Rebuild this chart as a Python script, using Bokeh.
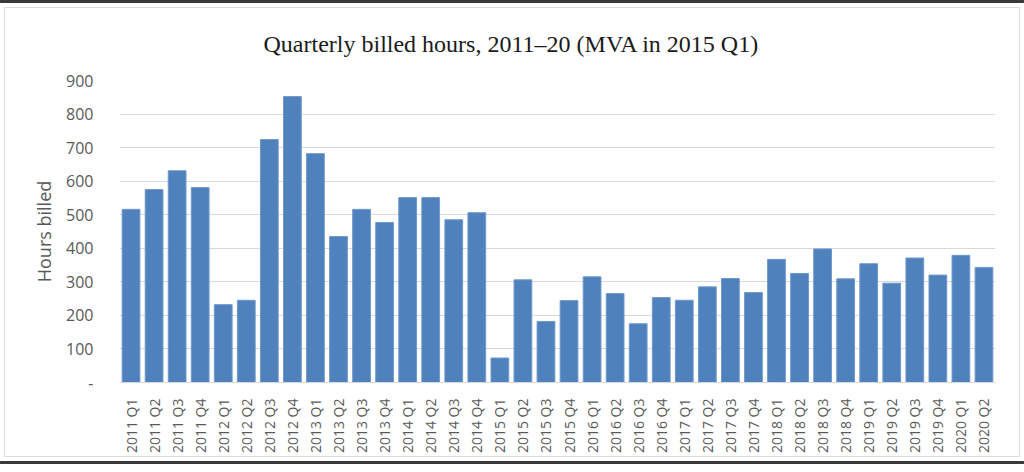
import math
from bokeh.plotting import figure
from bokeh.models import FactorRange, Range1d, FixedTicker
from bokeh.embed import file_html
from bokeh.resources import INLINE

quarters = ["2011 Q1", "2011 Q2", "2011 Q3", "2011 Q4",
            "2012 Q1", "2012 Q2", "2012 Q3", "2012 Q4",
            "2013 Q1", "2013 Q2", "2013 Q3", "2013 Q4",
            "2014 Q1", "2014 Q2", "2014 Q3", "2014 Q4",
            "2015 Q1", "2015 Q2", "2015 Q3", "2015 Q4",
            "2016 Q1", "2016 Q2", "2016 Q3", "2016 Q4",
            "2017 Q1", "2017 Q2", "2017 Q3", "2017 Q4",
            "2018 Q1", "2018 Q2", "2018 Q3", "2018 Q4",
            "2019 Q1", "2019 Q2", "2019 Q3", "2019 Q4",
            "2020 Q1", "2020 Q2"]
hours = [516, 575, 631, 581,
         232, 245, 724, 852,
         682, 435, 516, 477,
         551, 551, 485, 506,
         73, 306, 182, 244,
         315, 265, 175, 253,
         245, 285, 310, 268,
         367, 325, 398, 309,
         354, 296, 371, 320,
         379, 343]
y_ticks = [0, 100, 200, 300, 400, 500, 600, 700, 800, 900]
title_text = "Quarterly billed hours, 2011\u201320 (MVA in 2015 Q1)"
y_label = "Hours billed"

W, H = 1024, 464
FL, FR, FT, FB = 119, 995, 77, 379   # frame edges in canvas px

p = figure(x_range=FactorRange(*quarters), y_range=Range1d(0, 900),
           width=W, height=H, output_backend="svg", toolbar_location=None,
           min_border_left=FL, min_border_right=W - FR,
           min_border_top=FT, min_border_bottom=H - FB)
p.outline_line_color = None
p.background_fill_color = "white"
p.border_fill_alpha = 0
p.styles = {
    "background-color": "white",
    "border-top": "3px solid #3a3a3a",
    "border-bottom": "3px solid #3a3a3a",
    "box-shadow": "inset 0 0 0 4px white, inset 0 0 0 5px #DCDCDC",
}

p.vbar(x=quarters, top=hours, width=0.77, fill_color="#4F81BD",
       line_color="#6F98CC", line_width=1)

p.title.text = title_text
p.title.align = "left"
p.title.offset = 144
p.title.standoff = 47
p.title.text_font = "Liberation Serif"
p.title.text_font_size = "24px"
p.title.text_font_style = "normal"
p.title.text_color = "#1a1a1a"

p.xgrid.grid_line_color = None
p.ygrid.grid_line_color = "#D9D9D9"
p.ygrid.grid_line_width = 1.2

p.yaxis.ticker = FixedTicker(ticks=y_ticks)
p.yaxis.major_label_overrides = {0: "-"}
p.yaxis.axis_line_color = None
p.yaxis.major_tick_line_color = None
p.yaxis.minor_tick_line_color = None
p.yaxis.major_label_standoff = 20
p.yaxis.major_label_text_font = "Open Sans"
p.yaxis.major_label_text_font_size = "16px"
p.yaxis.major_label_text_color = "#595959"
p.yaxis.axis_label = y_label
p.yaxis.axis_label_standoff = 7
p.yaxis.axis_label_text_font = "Open Sans"
p.yaxis.axis_label_text_font_size = "18px"
p.yaxis.axis_label_text_font_style = "normal"
p.yaxis.axis_label_text_color = "#595959"

p.xaxis.axis_line_color = "#D9D9D9"
p.xaxis.axis_line_width = 1.2
p.xaxis.major_tick_line_color = None
p.xaxis.minor_tick_line_color = None
p.xaxis.major_label_orientation = math.pi / 2
p.xaxis.major_label_standoff = 10
p.xaxis.major_label_text_font = "Open Sans"
p.xaxis.major_label_text_font_size = "14px"
p.xaxis.major_label_text_color = "#595959"

open("out.html", "w").write(file_html(p, INLINE))
